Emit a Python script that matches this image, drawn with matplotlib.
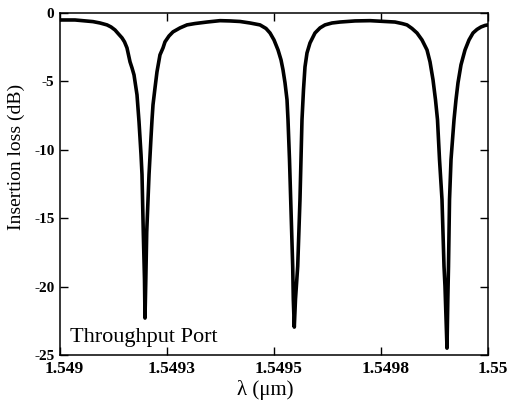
import matplotlib
matplotlib.use("Agg")
import matplotlib.pyplot as plt
from matplotlib.transforms import ScaledTranslation

plt.rcParams['font.family'] = ['Liberation Serif', 'DejaVu Serif']
plt.rcParams['axes.unicode_minus'] = False

# Wavelength (um) and insertion loss (dB)
wavelength = [
    1.5490000, 1.5490350, 1.5490771, 1.5490935, 1.5491098, 1.5491192, 1.5491285,
    1.5491355, 1.5491449, 1.5491507, 1.5491565, 1.5491636, 1.5491682, 1.5491729,
    1.5491799, 1.5491846, 1.5491893, 1.5491916, 1.5491946, 1.5491974, 1.5491986,
    1.5492005, 1.5492026, 1.5492080, 1.5492126, 1.5492150, 1.5492173, 1.5492220,
    1.5492266, 1.5492336, 1.5492407, 1.5492453, 1.5492547, 1.5492640, 1.5492804,
    1.5492967, 1.5493154, 1.5493435, 1.5493738, 1.5493972,
    1.5494206, 1.5494439, 1.5494673, 1.5494813, 1.5494907, 1.5495000, 1.5495094,
    1.5495164, 1.5495210, 1.5495257, 1.5495304, 1.5495327, 1.5495362, 1.5495390,
    1.5495437, 1.5495451, 1.5495474, 1.5495502, 1.5495554, 1.5495607, 1.5495654,
    1.5495689, 1.5495724, 1.5495771, 1.5495841, 1.5495958, 1.5496075, 1.5496192,
    1.5496355, 1.5496542, 1.5496893, 1.5497243,
    1.5497593, 1.5497827, 1.5497991, 1.5498107, 1.5498224, 1.5498341, 1.5498458,
    1.5498575, 1.5498645, 1.5498715, 1.5498773, 1.5498820, 1.5498867, 1.5498925,
    1.5498972, 1.5498995, 1.5499042, 1.5499061, 1.5499077, 1.5499101, 1.5499136,
    1.5499206, 1.5499252, 1.5499299, 1.5499369, 1.5499463, 1.5499556, 1.5499650,
    1.5499743, 1.5499837, 1.5499930, 1.5500000,
]
loss_db = [
    -0.51, -0.51, -0.63, -0.73, -0.87, -1.02, -1.24,
    -1.49, -1.82, -2.11, -2.55, -3.57, -4.01, -4.52,
    -5.98, -7.94, -10.35, -11.81, -16.03, -19.46, -22.30,
    -19.46, -16.03, -11.81, -9.11, -7.80, -6.71, -5.47,
    -4.30, -3.06, -2.55, -2.11, -1.68, -1.38, -1.09,
    -0.87, -0.77, -0.66, -0.56, -0.58,
    -0.62, -0.73, -0.87, -1.13, -1.46, -1.97, -2.70,
    -3.43, -4.15, -5.10, -6.34, -7.80, -10.71, -13.63,
    -18.51, -20.92, -22.96, -20.92, -18.51, -13.63, -7.80,
    -5.61, -3.94, -2.92, -2.19, -1.46, -1.09, -0.87,
    -0.73, -0.66, -0.58, -0.56,
    -0.62, -0.66, -0.77, -0.87, -1.13, -1.46, -1.97,
    -2.70, -3.57, -4.88, -6.34, -7.80, -10.71, -13.63,
    -18.51, -19.97, -24.50, -20.92, -18.51, -13.63, -10.71,
    -7.80, -6.34, -5.10, -3.79, -2.70, -1.97, -1.46,
    -1.20, -1.02, -0.91, -0.87,
]

xticks = [1.549, 1.54925, 1.5495, 1.54975, 1.55]
xtick_labels = ["1.549", "1.5493", "1.5495", "1.5498", "1.55"]
yticks = [0, -5, -10, -15, -20, -25]
ytick_labels = ["0", "-5", "-10", "-15", "-20", "-25"]

fig = plt.figure(figsize=(5.09, 4.05), dpi=100)
ax = fig.add_axes([60/509, 50/405, 428/509, 342/405])

ax.plot(wavelength, loss_db, color='black', lw=2.6,
        solid_joinstyle='round', solid_capstyle='round')

ax.set_xlim(1.549, 1.55)
ax.set_ylim(-25, 0)
ax.set_xticks(xticks)
ax.set_xticklabels(xtick_labels, fontsize=12.5, fontweight='bold')
ax.set_yticks(yticks)
ax.set_yticklabels(ytick_labels, fontsize=11, fontweight='bold')
ax.tick_params(direction='in', length=6, width=1, top=True, right=True, pad=4)
for lab in ax.get_xticklabels():
    lab.set_transform(lab.get_transform() + ScaledTranslation(0.045, 0, fig.dpi_scale_trans))
for sp in ax.spines.values():
    sp.set_linewidth(1.1)

ax.set_xlabel("λ (μm)", fontsize=15)
ax.xaxis.set_label_coords(0.479, -0.073)
ax.set_ylabel("Insertion loss (dB)", fontsize=14)
ax.yaxis.set_label_coords(-0.082, 0.58)

ax.text(0.023, 0.038, "Throughput Port", transform=ax.transAxes,
        fontsize=16, va='baseline', ha='left')

fig.savefig("out.png", dpi=100)
